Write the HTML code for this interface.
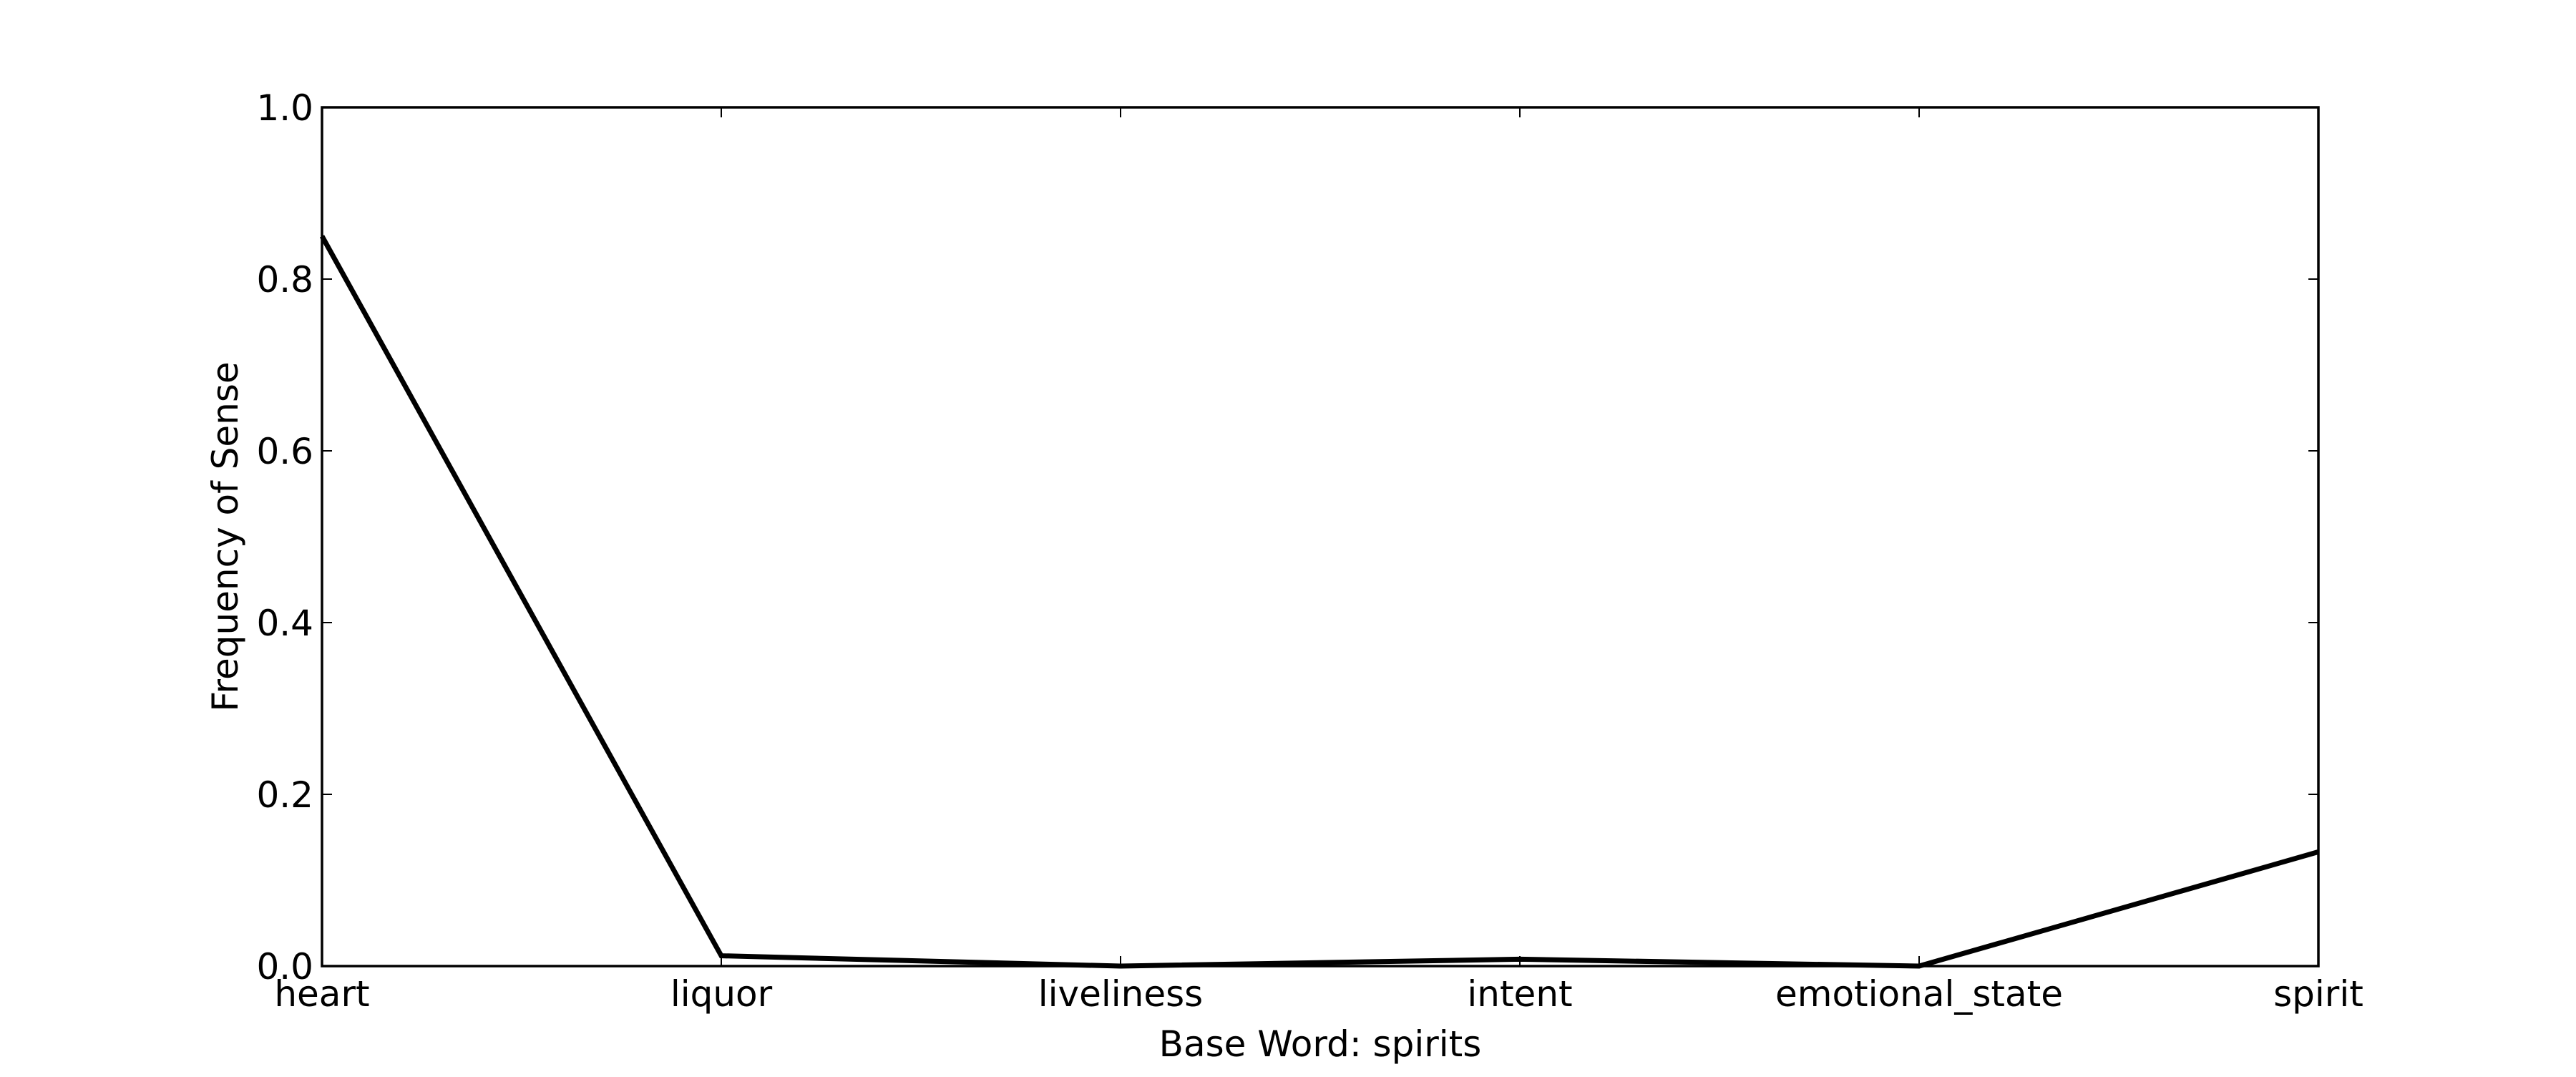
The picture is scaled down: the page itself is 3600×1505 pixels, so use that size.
<!DOCTYPE html>
<html><head><meta charset="utf-8"><style>
html,body{margin:0;padding:0;background:#fff;}
svg text{font-family:"DejaVu Sans","Liberation Sans",sans-serif;fill:#000;}
</style></head><body>
<svg id="chart" width="3600" height="1500" viewBox="0 0 3600 1500" xmlns="http://www.w3.org/2000/svg">
<rect x="0" y="0" width="3600" height="1500" fill="#fff"/>
<g id="plot"></g>
</svg>
<script>
const categories = ["heart","liquor","liveliness","intent","emotional_state","spirit"];
const seriesValues = [0.85, 0.012, 0.0, 0.008, 0.0, 0.133];
const yTicks = [0.0, 0.2, 0.4, 0.6, 0.8, 1.0];
const yTickLabels = ["0.0","0.2","0.4","0.6","0.8","1.0"];

const L=450, R=3240, T=150, B=1350;
const NS="http://www.w3.org/2000/svg";
const g=document.getElementById('plot');
function x(i){return L+(R-L)*i/(categories.length-1);}
function y(v){return B-(B-T)*v;}
function mk(tag,attrs){const e=document.createElementNS(NS,tag);for(const k in attrs)e.setAttribute(k,attrs[k]);g.appendChild(e);return e;}

let d=seriesValues.map((v,i)=>(i?'L':'M')+x(i)+','+y(v)).join(' ');
const line=mk('path',{d:d,fill:'none',stroke:'#000','stroke-width':7,'stroke-linejoin':'miter'});



const frame=mk('rect',{x:L,y:T,width:R-L,height:B-T,fill:'none',stroke:'#000','stroke-width':3.5});



yTicks.forEach((v,i)=>{
  const t1=mk('line',{x1:L,x2:L+14,y1:y(v),y2:y(v),stroke:'#000','stroke-width':2});
  
  
  const t2=mk('line',{x1:R-14,x2:R,y1:y(v),y2:y(v),stroke:'#000','stroke-width':2});
  
  
  const lb=mk('text',{x:L-12,y:y(v)+18,'text-anchor':'end','font-size':50});
  lb.textContent=yTickLabels[i];
  
  
});
categories.forEach((c,i)=>{
  const t1=mk('line',{x1:x(i),x2:x(i),y1:B,y2:B-14,stroke:'#000','stroke-width':2});
  
  
  const t2=mk('line',{x1:x(i),x2:x(i),y1:T,y2:T+14,stroke:'#000','stroke-width':2});
  
  
  const lb=mk('text',{x:x(i),y:B+56,'text-anchor':'middle','font-size':50});
  lb.textContent=c;
  
  
});
const xl=mk('text',{x:(L+R)/2,y:B+126,'text-anchor':'middle','font-size':50});
xl.textContent='Base Word: spirits';


const yl=mk('text',{x:0,y:0,'text-anchor':'middle','font-size':50,transform:'translate(332,'+((T+B)/2)+') rotate(-90)'});
yl.textContent='Frequency of Sense';


</script>
</body></html>
